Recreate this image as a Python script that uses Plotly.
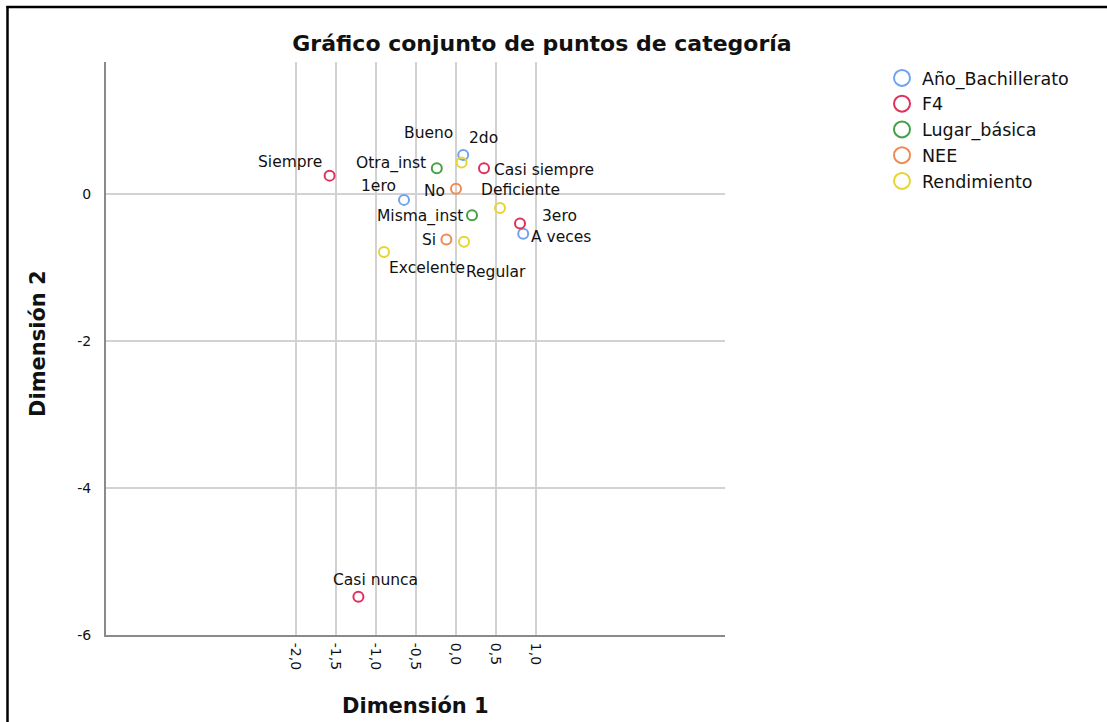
import plotly.graph_objects as go

# ---------------- data ----------------
ano_labels = ["1ero", "2do", "3ero"]
ano_x = [-0.65, 0.09, 0.84]
ano_y = [-0.08, 0.53, -0.54]

f4_labels = ["Siempre", "Casi siempre", "A veces", "Casi nunca"]
f4_x = [-1.58, 0.35, 0.80, -1.22]
f4_y = [0.25, 0.35, -0.40, -5.48]

lugar_labels = ["Misma_inst", "Otra_inst"]
lugar_x = [0.20, -0.24]
lugar_y = [-0.29, 0.35]

nee_labels = ["Si", "No"]
nee_x = [-0.12, 0.00]
nee_y = [-0.62, 0.07]

rend_labels = ["Excelente", "Bueno", "Regular", "Deficiente"]
rend_x = [-0.90, 0.07, 0.10, 0.55]
rend_y = [-0.79, 0.43, -0.65, -0.19]

series_names = ["Año_Bachillerato", "F4", "Lugar_básica", "NEE", "Rendimiento"]

x_tickvals = [-2.0, -1.5, -1.0, -0.5, 0.0, 0.5, 1.0]
x_ticktext = ["-2,0", "-1,5", "-1,0", "-0,5", "0,0", "0,5", "1,0"]
y_tickvals = [0, -2, -4, -6]
y_ticktext = ["0", "-2", "-4", "-6"]

title_text = "Gráfico conjunto de puntos de categoría"
xaxis_title = "Dimensión 1"
yaxis_title = "Dimensión 2"

# ---------------- styles ----------------
colors = ["#6fa3ef", "#e0305c", "#44a047", "#f08a55", "#e6d52e"]
FONT = "DejaVu Sans"

# label placement: (xanchor, xshift px, yshift px)
label_pos = {
    "Siempre": ("right", -6, 14),
    "Otra_inst": ("right", -9, 5),
    "Bueno": ("right", -7, 29),
    "2do": ("left", 4, 17),
    "Casi siempre": ("left", 8, -2),
    "1ero": ("right", -6, 14),
    "No": ("right", -9, -2),
    "Deficiente": ("left", -21, 18),
    "Misma_inst": ("right", -7, -1),
    "3ero": ("left", 17, 18),
    "A veces": ("left", 9, -14),
    "Si": ("right", -8, 0),
    "Excelente": ("left", 3, -16),
    "Regular": ("left", 0, -30),
    "Casi nunca": ("center", 17, 17),
}

W, H = 1107, 722
L, R, T, B = 106, 725, 62, 635


def px_x(px):
    return (px - L) / (R - L)


def px_y(py):
    return (B - py) / (B - T)


series = [
    (ano_labels, ano_x, ano_y),
    (f4_labels, f4_x, f4_y),
    (lugar_labels, lugar_x, lugar_y),
    (nee_labels, nee_x, nee_y),
    (rend_labels, rend_x, rend_y),
]

fig = go.Figure()
annotations = []
for name, col, (labs, xs, ys) in zip(series_names, colors, series):
    fig.add_trace(go.Scatter(
        x=xs, y=ys, mode="markers", name=name, showlegend=False,
        legendgroup=name, text=labs,
        marker=dict(symbol="circle-open", size=10, color=col,
                    line=dict(width=2, color=col)),
    ))
    for lab, xv, yv in zip(labs, xs, ys):
        anc, xs_, ys_ = label_pos[lab]
        annotations.append(dict(
            x=xv, y=yv, xref="x", yref="y", text=lab, showarrow=False,
            xanchor=anc, yanchor="middle", xshift=xs_, yshift=ys_,
            font=dict(family=FONT, size=15.5, color="#111111"),
        ))

# legend-only entries with larger symbols
for name, col in zip(series_names, colors):
    fig.add_trace(go.Scatter(
        x=[None], y=[None], mode="markers", name=name, legendgroup=name,
        marker=dict(symbol="circle-open", size=17, color=col,
                    line=dict(width=2, color=col)),
    ))

# axis titles
annotations.append(dict(
    x=0.5, y=px_y(706), xref="paper", yref="paper", text="<b>%s</b>" % xaxis_title,
    showarrow=False, xanchor="center", yanchor="middle",
    font=dict(family=FONT, size=21, color="#111111"),
))
annotations.append(dict(
    x=px_x(38), y=px_y(344), xref="paper", yref="paper", text="<b>%s</b>" % yaxis_title,
    showarrow=False, xanchor="center", yanchor="middle", textangle=-90,
    font=dict(family=FONT, size=21, color="#111111"),
))

shapes = [
    dict(type="line", xref="paper", yref="paper",
         x0=px_x(6.5), x1=px_x(W + 5), y0=px_y(7), y1=px_y(7),
         line=dict(color="black", width=2.5)),
    dict(type="line", xref="paper", yref="paper",
         x0=px_x(7.5), x1=px_x(7.5), y0=px_y(6), y1=px_y(H + 5),
         line=dict(color="black", width=2.5)),
]

fig.update_layout(
    width=W, height=H,
    margin=dict(l=L, r=W - R, t=T, b=H - B, autoexpand=False),
    paper_bgcolor="white", plot_bgcolor="white",
    title=dict(text="<b>%s</b>" % title_text, x=px_x(542), xref="paper",
               xanchor="center", y=1 - 43 / H, yref="container", yanchor="middle",
               font=dict(family=FONT, size=22, color="#111111")),
    font=dict(family=FONT, color="#111111"),
    legend=dict(x=px_x(882), y=px_y(60), xanchor="left", yanchor="top",
                font=dict(family=FONT, size=17.5, color="#111111"),
                bgcolor="rgba(0,0,0,0)", tracegroupgap=0, itemsizing="trace"),
    annotations=annotations,
    shapes=shapes,
    showlegend=True,
)

fig.update_xaxes(
    range=[(L - 456) / 80, (R - 456) / 80],
    tickvals=x_tickvals, ticktext=x_ticktext, tickangle=90,
    showgrid=True, gridcolor="#d2d2d2", gridwidth=2,
    zeroline=False, showline=True, linecolor="#8a8a8a", linewidth=2,
    ticks="", ticklabelstandoff=3,
    tickfont=dict(family=FONT, size=14, color="#111111"),
)
fig.update_yaxes(
    range=[-6, (194 - T) / 73.5],
    tickvals=y_tickvals, ticktext=y_ticktext,
    showgrid=True, gridcolor="#d2d2d2", gridwidth=2,
    zeroline=False, showline=True, linecolor="#8a8a8a", linewidth=2,
    ticks="", ticklabelstandoff=10,
    tickfont=dict(family=FONT, size=14, color="#111111"),
)

fig.write_html(
    "out.html",
    config={"displayModeBar": False},
    post_script="document.body.style.margin='0px';document.body.style.padding='0px';",
)
